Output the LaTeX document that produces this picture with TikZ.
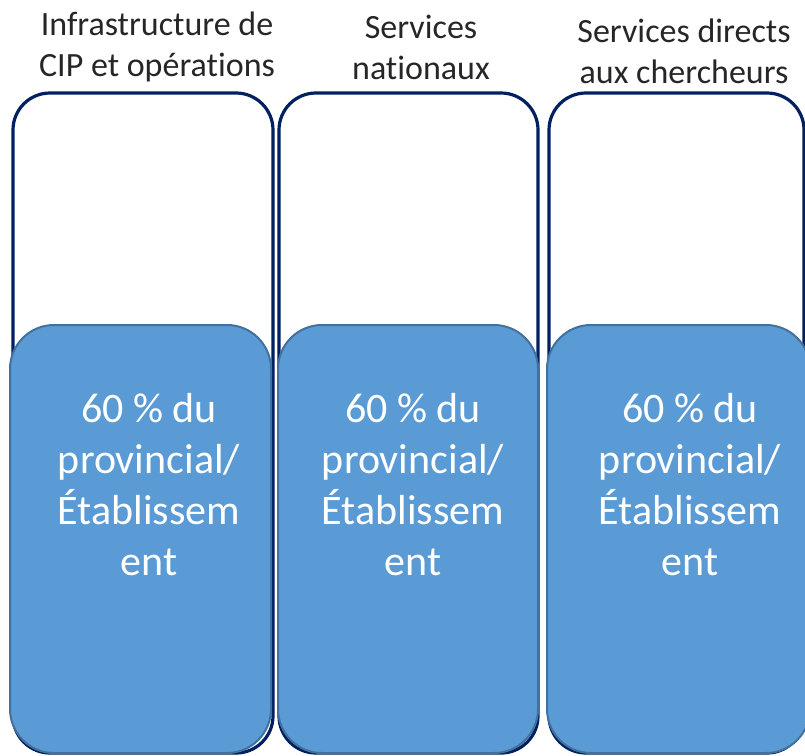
\documentclass[tikz,border=0pt]{standalone}
\usepackage{fontspec}
\setmainfont{Carlito}[Ligatures=NoCommon]
\usetikzlibrary{calc}

\definecolor{navy}{HTML}{002060}
\definecolor{barblue}{HTML}{5B9BD5}
\definecolor{baredge}{HTML}{41719C}

\begin{document}
\begin{tikzpicture}[x=1pt, y=-1pt]

  \useasboundingbox (0, 0) rectangle (805, 755);
  \clip (0, 0) rectangle (805, 755);

  \pgfmathsetmacro{\ytop}{93}
  \pgfmathsetmacro{\ymid}{325}
  \pgfmathsetmacro{\ybot}{753}

  % the last line's baseline is what anchor=base sits on
  \foreach \xl/\xr/\bl/\br/\tx/\hx/\hy/\head [count=\n] in {
      13/273/10/271/149/157/76/{Infrastructure de\\CIP et opérations},
      279/538/278/538/413/421/79/{Services\\nationaux},
      549/804/547/810/690/684/83/{Services directs\\aux chercheurs}} {
    \draw[navy, line width=3.2pt, rounded corners=37pt]
         (\xl, \ytop) rectangle (\xr, \ybot);
    \draw[baredge, fill=barblue, line width=2pt, rounded corners=44pt]
         (\bl, \ymid) rectangle (\br, \ybot);
    \node[anchor=base, align=center, text=black!85, inner sep=0pt,
          font=\fontsize{34}{41}\selectfont] (head\n) at (\hx, \hy) {\head};
    \node[anchor=base, align=center, text=white, inner sep=0pt,
          font=\fontsize{42}{51}\selectfont] (share\n) at (\tx, 575)
         {60 \% du\\provincial/\\Établissem\\ent};
  }

\end{tikzpicture}
\end{document}
